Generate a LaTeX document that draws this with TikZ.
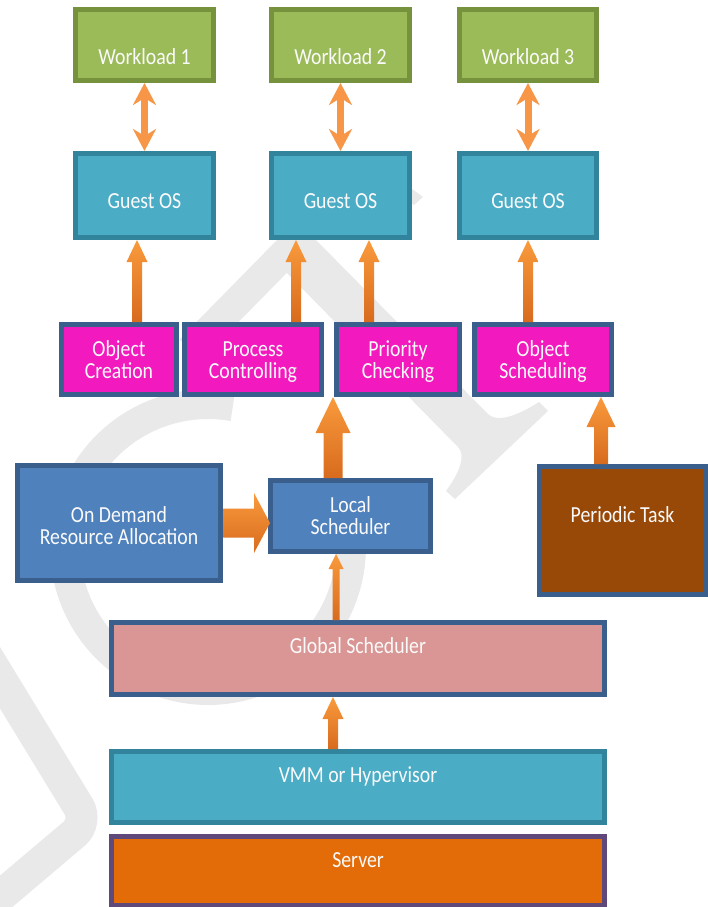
\documentclass[tikz,border=0pt]{standalone}
\usepackage{fontspec}
\setmainfont{Carlito}[FakeStretch=0.86]
\usetikzlibrary{arrows.meta,calc}
\definecolor{wlF}{HTML}{9BBB59}
\definecolor{wlD}{HTML}{76923C}
\definecolor{goF}{HTML}{4BACC6}
\definecolor{goD}{HTML}{31849B}
\definecolor{mgF}{HTML}{F21ABE}
\definecolor{bluD}{HTML}{3A5F8C}
\definecolor{odF}{HTML}{4F81BD}
\definecolor{ptF}{HTML}{984807}
\definecolor{gsF}{HTML}{D99694}
\definecolor{svF}{HTML}{E36C09}
\definecolor{svD}{HTML}{5F497A}
\definecolor{arrL}{HTML}{F99A3C}
\definecolor{arrD}{HTML}{D86B1E}
\definecolor{arrM}{HTML}{F79646}
\definecolor{wmC}{HTML}{E9E9E9}
\newcommand\twoline[2]{\vtop{\lineskiplimit=-100pt\baselineskip=22.5pt\halign{\hfil##\hfil\cr#1\cr#2\cr}}}
% vertical block arrow: from, to, shaft width, head width, head length
\newcommand\vblock[5]{\shade[top color=arrL, bottom color=arrD] let \p1=(#1), \p2=(#2) in
  (\x1-#3/2,\y1) -- (\x1-#3/2,\y2-#5) -- (\x1-#4/2,\y2-#5) -- (\x1,\y2) --
  (\x1+#4/2,\y2-#5) -- (\x1+#3/2,\y2-#5) -- (\x1+#3/2,\y1) -- cycle;}
\begin{document}
\begin{tikzpicture}[x=1pt,y=-1pt,
  box/.style={rectangle, draw, line width=5pt, inner sep=0pt, outer sep=2.5pt},
  txt/.style={text=white!96!gray, inner sep=0pt, anchor=base, font=\fontsize{23}{22.5}\selectfont},
  wm/.style={draw=wmC, line width=30pt},
  dbl/.style={draw=arrM, line width=7pt, {Stealth[width=23pt,length=22pt,inset=7pt]}-{Stealth[width=23pt,length=22pt,inset=7pt]}}]
\useasboundingbox (0,0) rectangle (708,907);
% watermark
\begin{scope}
\clip (0,0) rectangle (708,907);
\draw[wm] plot[domain=-80:-362, samples=90] ({208+143*cos(\x)},{547+143*sin(\x)});
\draw[wm] (300,238) -- (190,350);
\fill[wmC] (290,238) -- (314,238) -- (488,414) .. controls (497,423) and (517,416) .. (539,402)
  -- (548,411) -- (455,499) -- (446,491) .. controls (460,472) and (466,455) .. (458,447) -- (282,268) -- cycle;
\fill[wmC] (400,180) -- (423,197) -- (414,205) -- (395,195) -- cycle;
\draw[wm, line width=32pt, rounded corners=18pt] (-20,645) -- (88,822) -- (-10,905);
\end{scope}
% boxes
\node[box, fill=wlF, draw=wlD, minimum width=138pt, minimum height=71pt] (w1) at (144.5,45) {};
\node[box, fill=wlF, draw=wlD, minimum width=138pt, minimum height=71pt] (w2) at (340.5,45) {};
\node[box, fill=wlF, draw=wlD, minimum width=137pt, minimum height=71pt] (w3) at (528,45) {};
\node[box, fill=goF, draw=goD, minimum width=138pt, minimum height=84pt] (g1) at (144.5,195.5) {};
\node[box, fill=goF, draw=goD, minimum width=138pt, minimum height=84pt] (g2) at (340.5,195.5) {};
\node[box, fill=goF, draw=goD, minimum width=137pt, minimum height=84pt] (g3) at (528,195.5) {};
\node[box, fill=mgF, draw=bluD, minimum width=115pt, minimum height=70pt] (oc) at (119,359.5) {};
\node[box, fill=mgF, draw=bluD, minimum width=137pt, minimum height=70pt] (pc) at (253,359.5) {};
\node[box, fill=mgF, draw=bluD, minimum width=123pt, minimum height=70pt] (pr) at (398,359.5) {};
\node[box, fill=mgF, draw=bluD, minimum width=137pt, minimum height=70pt] (os) at (543,359.5) {};
\node[box, fill=odF, draw=bluD, minimum width=203pt, minimum height=115pt] (od) at (119,523) {};
\node[box, fill=odF, draw=bluD, minimum width=160pt, minimum height=71pt] (ls) at (350.5,516) {};
\node[box, fill=ptF, draw=bluD, minimum width=166pt, minimum height=128pt] (pt) at (622.5,530.5) {};
\node[box, fill=gsF, draw=bluD, minimum width=493pt, minimum height=72pt] (gs) at (358,658.5) {};
\node[box, fill=goF, draw=goD, minimum width=493pt, minimum height=71pt] (vm) at (358,787) {};
\node[box, fill=svF, draw=svD, minimum width=493pt, minimum height=69pt] (sv) at (358,871) {};
% texts
\node[txt] (w1t) at (144.5,65) {Workload 1};
\node[txt] (w2t) at (340.5,65) {Workload 2};
\node[txt] (w3t) at (528,65) {Workload 3};
\node[txt] (g1t) at (144.5,208) {Guest OS};
\node[txt] (g2t) at (340.5,208) {Guest OS};
\node[txt] (g3t) at (528,208) {Guest OS};
\node[txt] (oct) at (119,356) {\twoline{Object}{Creation}};
\node[txt] (pct) at (253,356) {\twoline{Process}{Controlling}};
\node[txt] (prt) at (398,356) {\twoline{Priority}{Checking}};
\node[txt] (ost) at (543,356) {\twoline{Object}{Scheduling}};
\node[txt] (odt) at (119,522) {\twoline{On Demand}{Resource Allocation}};
\node[txt] (lst) at (350.5,512) {\twoline{Local}{Scheduler}};
\node[txt] (ptt) at (622.5,522) {Periodic Task};
\node[txt] (gst) at (358,653) {Global Scheduler};
\node[txt] (vmt) at (358,782) {VMM or Hypervisor};
\node[txt] (svt) at (358,867) {Server};
% arrows
\draw[dbl] (w1) -- (g1);
\draw[dbl] (w2) -- (g2);
\draw[dbl] (w3) -- (g3);
\vblock{[xshift=18pt]oc.north}{g1.south}{10pt}{21pt}{22pt}
\vblock{[xshift=43pt]pc.north}{g2.south}{10pt}{21pt}{22pt}
\vblock{[xshift=-29pt]pr.north}{g2.south}{10pt}{21pt}{22pt}
\vblock{[xshift=-15pt]os.north}{g3.south}{10pt}{21pt}{22pt}
\vblock{[xshift=-17.5pt]ls.north}{pr.south}{19pt}{35pt}{36pt}
\vblock{[xshift=-22pt]gs.north}{ls.south}{7pt}{15pt}{15pt}
\vblock{[xshift=-25pt]vm.north}{gs.south}{10pt}{21pt}{22pt}
\vblock{[xshift=-21.5pt]pt.north}{os.south}{14pt}{29pt}{30pt}
\shade[top color=arrL, bottom color=arrD] let \p1=(od.east), \p2=(ls.west) in
  (\x1,\y1+14.5pt) -- (\x2-14pt,\y1+14.5pt) -- (\x2-14pt,\y1+30pt) -- (\x2+2pt,\y1) --
  (\x2-14pt,\y1-30pt) -- (\x2-14pt,\y1-14.5pt) -- (\x1,\y1-14.5pt) -- cycle;
\end{tikzpicture}
\end{document}
